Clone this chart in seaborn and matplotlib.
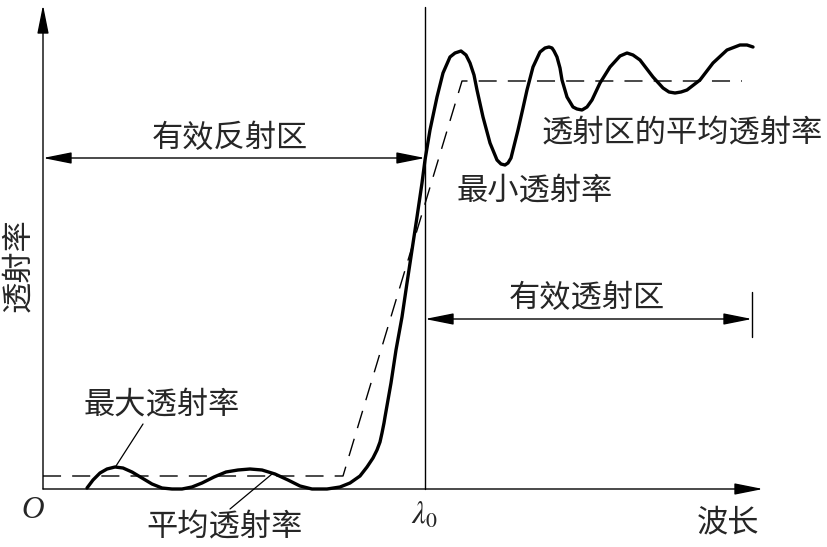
import matplotlib
matplotlib.use("Agg")
import matplotlib.pyplot as plt
import seaborn as sns

# Curve readings (x: wavelength offset, y: transmittance, same arbitrary units)
wl_solid = [44, 50, 57, 64, 72, 80, 89, 99, 109, 119, 129, 139, 149, 159, 171, 183,
            195, 207, 219, 232, 245, 257, 269, 284, 297, 307, 317, 324, 330, 334,
            337, 339, 341, 342, 345, 348, 353, 359, 364, 369, 374, 379, 382, 387,
            394, 400, 407, 412, 418, 423, 427, 431, 434, 440, 447, 454, 458, 462,
            465, 468, 475, 480, 484, 490, 497, 502, 506, 509, 511, 514, 517, 519,
            524, 530, 534, 539, 544, 549, 557, 567, 577, 584, 590, 597, 610, 620,
            626, 632, 638, 644, 657, 670, 684, 697, 704, 710]
t_solid = [1, 9, 16, 20, 22, 21, 17, 11, 5, 1, 0, 0, 2, 6, 12, 17,
           19, 20, 19, 15, 9, 3, 0, 0, 2, 6, 13, 22, 31, 39,
           47, 56, 66, 72, 89, 106, 139, 172, 206, 239, 272, 306, 329, 359,
           392, 416, 432, 436, 438, 434, 426, 414, 399, 372, 346, 329, 325, 324,
           326, 331, 359, 381, 399, 422, 437, 441, 442, 441, 438, 432, 421, 409,
           392, 382, 380, 379, 382, 389, 406, 422, 433, 436, 434, 429, 412, 401,
           397, 396, 397, 399, 409, 426, 439, 444, 444, 442]

wl_ideal = [0, 300, 419, 699]
t_ideal = [13, 13, 408, 408]

lambda0 = 382
axis_x_end = 720
axis_y_end = 484
trans_end = 709
reflect_band_y = 331
trans_band_y = 170


def main():
    sns.set_style("white")
    plt.rcParams["font.family"] = ["Noto Sans CJK SC", "DejaVu Sans"]
    plt.rcParams["mathtext.fontset"] = "stix"

    fig = plt.figure(figsize=(8.28, 5.47), dpi=100)
    ax = fig.add_axes([0, 0, 1, 1])
    ax.set_xlim(-43, 785)
    ax.set_ylim(-58, 489)
    ax.set_axis_off()

    fs = 22.5
    arrow_kw = dict(color="black", lw=1.0, shrinkA=0, shrinkB=0)
    head = "head_length=1.1,head_width=0.22"

    # Axes with arrows
    ax.annotate("", xy=(0, axis_y_end), xytext=(0, 0),
                arrowprops=dict(arrowstyle="-|>," + head, mutation_scale=16, **arrow_kw))
    ax.annotate("", xy=(axis_x_end, 0), xytext=(0, 0),
                arrowprops=dict(arrowstyle="-|>," + head, mutation_scale=16, **arrow_kw))
    # lambda0 vertical line
    ax.plot([lambda0, lambda0], [0, 482], color="black", lw=1.0)

    # Curves
    sns.lineplot(x=wl_ideal, y=t_ideal, ax=ax, color="black", lw=1.0,
                 estimator=None, sort=False)
    ax.lines[-1].set_dashes([13, 8])
    sns.lineplot(x=wl_solid, y=t_solid, ax=ax, color="black", lw=2.4,
                 estimator=None, sort=False)
    ax.lines[-1].set_solid_joinstyle("round")
    ax.lines[-1].set_solid_capstyle("round")

    # Band arrows
    ax.annotate("", xy=(lambda0, reflect_band_y), xytext=(0, reflect_band_y),
                arrowprops=dict(arrowstyle="<|-|>," + head, mutation_scale=16, **arrow_kw))
    ax.annotate("", xy=(trans_end, trans_band_y), xytext=(lambda0, trans_band_y),
                arrowprops=dict(arrowstyle="<|-|>," + head, mutation_scale=16, **arrow_kw))
    ax.plot([trans_end, trans_end], [152, 197], color="black", lw=1.0)

    # Leader lines
    ax.plot([100, 73], [65, 23], color="black", lw=0.9)
    ax.plot([187, 229], [-20, 15], color="black", lw=0.9)

    # Texts
    ax.text(187, 351, "有效反射区", fontsize=fs, ha="center", va="center")
    ax.text(544, 191, "有效透射区", fontsize=fs, ha="center", va="center")
    ax.text(499, 356, "透射区的平均透射率", fontsize=fs, ha="left", va="center")
    ax.text(414, 299, "最小透射率", fontsize=fs, ha="left", va="center")
    ax.text(119, 85, "最大透射率", fontsize=fs, ha="center", va="center")
    ax.text(182, -38, "平均透射率", fontsize=fs, ha="center", va="center")
    ax.text(-25, 224, "透射率", fontsize=fs, ha="center", va="center", rotation=90)
    ax.text(685, -33, "波长", fontsize=fs, ha="center", va="center")
    ax.text(-10, -21, "O", fontsize=fs, ha="center", va="center",
            family="Liberation Serif", style="italic")
    ax.text(382, -26, r"$\lambda_0$", fontsize=fs, ha="center", va="center")

    fig.savefig("out.png", dpi=100, facecolor="white")


if __name__ == "__main__":
    main()
